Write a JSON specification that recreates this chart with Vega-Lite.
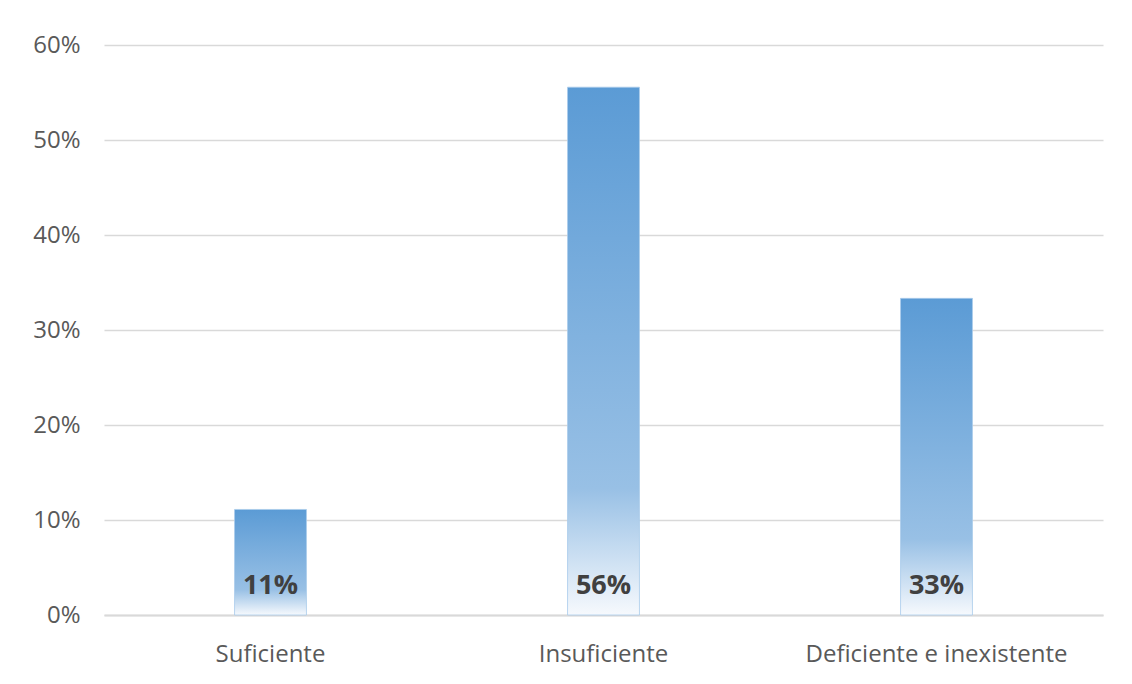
{
  "$schema": "https://vega.github.io/schema/vega-lite/v6.json",
  "autosize": {"type": "none"},
  "width": 999,
  "height": 570,
  "padding": {"left": 104, "top": 45, "right": 29, "bottom": 69},
  "background": "white",
  "config": {
    "view": {"stroke": null},
    "font": "Open Sans"
  },
  "data": {
    "values": [
      {"categoria": "Suficiente", "valor": 0.1111},
      {"categoria": "Insuficiente", "valor": 0.5556},
      {"categoria": "Deficiente e inexistente", "valor": 0.3333}
    ]
  },
  "encoding": {
    "x": {
      "field": "categoria",
      "type": "nominal",
      "sort": null,
      "scale": {"paddingInner": 0.784, "paddingOuter": 0.392},
      "axis": {
        "title": null,
        "labelAngle": 0,
        "labelFontSize": 24,
        "labelColor": "#595959",
        "labelPadding": 27,
        "labelLimit": 0,
        "ticks": false,
        "domainColor": "#D9D9D9",
        "domainWidth": 2
      }
    }
  },
  "layer": [
    {
      "mark": {
        "type": "bar",
        "color": {
          "gradient": "linear",
          "x1": 0, "y1": 0, "x2": 0, "y2": 1,
          "stops": [
            {"offset": 0, "color": "#5B9BD5"},
            {"offset": 0.76, "color": "#98C0E5"},
            {"offset": 1, "color": "#F6F9FD"}
          ]
        },
        "stroke": "#A9CBEB",
        "strokeWidth": 0.8
      },
      "encoding": {
        "y": {
          "field": "valor",
          "type": "quantitative",
          "scale": {"domain": [0, 0.6]},
          "axis": {
            "title": null,
            "format": ".0%",
            "values": [0, 0.1, 0.2, 0.3, 0.4, 0.5, 0.6],
            "labelOverlap": false,
            "labelFontSize": 24,
            "labelColor": "#595959",
            "labelPadding": 24,
            "ticks": false,
            "domain": false,
            "gridColor": "#D9D9D9",
            "gridWidth": 1.5
          }
        }
      }
    },
    {
      "mark": {
        "type": "text",
        "fontSize": 27,
        "fontWeight": "bold",
        "color": "#404040",
        "baseline": "alphabetic",
        "dy": -21
      },
      "encoding": {
        "y": {"datum": 0, "type": "quantitative"},
        "text": {"field": "valor", "type": "quantitative", "format": ".0%"}
      }
    }
  ]
}
